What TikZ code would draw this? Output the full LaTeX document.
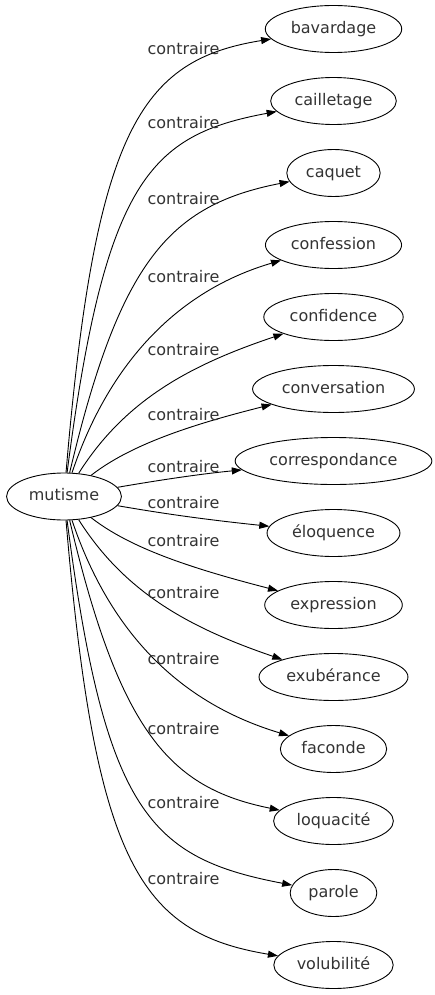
\documentclass[tikz,border=0pt]{standalone}
\usepackage{fontspec}
\setmainfont{DejaVu Sans}
\usepackage{tikz}
\usetikzlibrary{arrows.meta,shapes.geometric}

\begin{document}
\begin{tikzpicture}[x=1pt,y=-1pt,
    mot/.style={draw, ellipse, line width=0.9pt, minimum height=47pt,
                inner xsep=5.5pt, inner ysep=0pt, text height=12pt, text depth=3.5pt,
                font=\fontsize{16}{19}\selectfont, text=black!80},
    etiq/.style={inner sep=0pt, font=\fontsize{16}{19}\selectfont, text=black!80},
    fleche/.style={line width=0.9pt, -{Triangle[length=10pt,width=7pt]}}]

                % Frame of the page
                \useasboundingbox (0,0) rectangle (434,995);

                % Source word
                \node[mot] (mut) at (64,496.5) {mutisme};

                % Target words, one row each
                \foreach \nom/\txt [count=\i from 0] in {bav/bavardage, cai/cailletage,
                    caq/caquet, cfs/confession, cfd/confidence, cvs/conversation,
                    cor/correspondance, elo/éloquence, exp/expression, exu/exubérance,
                    fac/faconde, loq/loquacité, par/parole, vol/volubilité} {
                    \node[mot] (\nom) at (333.5,{29+72*\i}) {\txt};
                }

                % Edges and their labels (lower half mirrors the upper one)
                \foreach \nom/\ly/\ax/\ay/\bx/\by in {bav/49/95/130/140/60,
                    cai/123/105/180/150/135, caq/199/120/260/170/205,
                    cfs/277/110/360/180/290, cfd/350/125/400/190/365,
                    cvs/415/130/445/190/425, cor/467/160/480/200/474,
                    elo/503/160/513/200/519, exp/541/130/548/190/568,
                    exu/593/125/593/190/628, fac/659/110/633/180/703,
                    loq/729/120/733/170/788, par/803/105/813/150/858,
                    vol/879/95/863/140/933} {
                    \draw[fleche] (mut) .. controls (\ax,\ay) and (\bx,\by) .. (\nom);
                    \node[etiq] (l\nom) at (183.5,\ly) {contraire};
                }
            \end{tikzpicture}
\end{document}
